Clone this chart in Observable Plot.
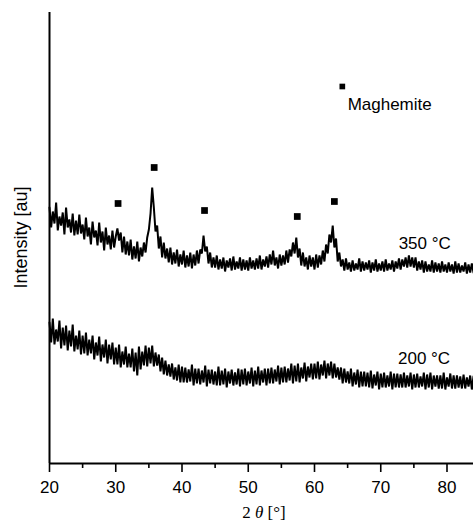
<!DOCTYPE html>
<html>
<head>
<meta charset="utf-8">
<script src="https://cdn.jsdelivr.net/npm/d3@7"></script>
<script src="https://cdn.jsdelivr.net/npm/@observablehq/plot@0.6"></script>
<style>
  html, body { margin: 0; padding: 0; background: #fff; }
  #chart svg { display: block; }
</style>
</head>
<body>
<div id="chart"></div>
<script>
// 2θ sampling positions (degrees), 0.25° step
const twoTheta = [
  20,20.25,20.5,20.75,21,21.25,21.5,21.75,22,22.25,22.5,22.75,23,23.25,23.5,23.75,24,24.25,24.5,24.75,
  25,25.25,25.5,25.75,26,26.25,26.5,26.75,27,27.25,27.5,27.75,28,28.25,28.5,28.75,29,29.25,29.5,29.75,
  30,30.25,30.5,30.75,31,31.25,31.5,31.75,32,32.25,32.5,32.75,33,33.25,33.5,33.75,34,34.25,34.5,34.75,
  35,35.25,35.5,35.75,36,36.25,36.5,36.75,37,37.25,37.5,37.75,38,38.25,38.5,38.75,39,39.25,39.5,39.75,
  40,40.25,40.5,40.75,41,41.25,41.5,41.75,42,42.25,42.5,42.75,43,43.25,43.5,43.75,44,44.25,44.5,44.75,
  45,45.25,45.5,45.75,46,46.25,46.5,46.75,47,47.25,47.5,47.75,48,48.25,48.5,48.75,49,49.25,49.5,49.75,
  50,50.25,50.5,50.75,51,51.25,51.5,51.75,52,52.25,52.5,52.75,53,53.25,53.5,53.75,54,54.25,54.5,54.75,
  55,55.25,55.5,55.75,56,56.25,56.5,56.75,57,57.25,57.5,57.75,58,58.25,58.5,58.75,59,59.25,59.5,59.75,
  60,60.25,60.5,60.75,61,61.25,61.5,61.75,62,62.25,62.5,62.75,63,63.25,63.5,63.75,64,64.25,64.5,64.75,
  65,65.25,65.5,65.75,66,66.25,66.5,66.75,67,67.25,67.5,67.75,68,68.25,68.5,68.75,69,69.25,69.5,69.75,
  70,70.25,70.5,70.75,71,71.25,71.5,71.75,72,72.25,72.5,72.75,73,73.25,73.5,73.75,74,74.25,74.5,74.75,
  75,75.25,75.5,75.75,76,76.25,76.5,76.75,77,77.25,77.5,77.75,78,78.25,78.5,78.75,79,79.25,79.5,79.75,
  80,80.25,80.5,80.75,81,81.25,81.5,81.75,82,82.25,82.5,82.75,83,83.25,83.5,83.75,84
];

// 350 °C pattern (arbitrary units), noisy trace
const i350 = [
  256,236,252,240,261,233,247,238,251,229,256,236,244,231,250,228,243,229,249,230,
  239,224,246,227,236,219,242,226,233,218,241,221,232,213,236,219,228,214,233,216,
  227,235,223,231,211,227,209,222,208,224,204,217,205,222,202,216,207,221,211,226,
  234,250,276,256,232,238,215,227,206,221,205,215,201,216,199,211,200,214,197,209,
  199,213,196,208,197,211,195,209,198,213,200,214,210,228,212,217,200,211,196,206,
  196,208,194,204,195,206,192,203,196,205,193,207,194,202,195,206,193,204,194,203,
  193,206,195,203,194,205,195,208,194,204,197,207,196,209,199,213,198,206,195,209,
  198,208,199,213,201,214,207,221,210,226,206,215,198,211,197,206,194,208,197,206,
  194,209,196,208,199,213,202,219,210,229,221,238,216,225,202,211,197,204,193,205,
  194,201,192,203,193,200,194,205,192,202,193,201,194,203,191,201,193,204,192,200,
  193,202,192,204,193,200,194,203,192,202,195,205,194,204,197,206,196,208,197,206,
  196,206,193,202,194,203,191,202,192,199,192,203,191,201,192,200,191,202,192,199,
  191,201,192,199,190,202,191,200,191,198,192,201,190,199,191,200,191
];

// 200 °C pattern (arbitrary units)
const i200 = [
  141,121,145,119,134,122,143,115,136,118,138,113,133,117,139,112,128,114,133,109,
  128,110,131,108,124,110,128,104,121,108,127,102,119,106,124,100,119,104,121,99,
  116,99,119,96,112,99,117,96,110,96,115,92,111,88,117,94,112,98,118,97,
  116,100,118,97,111,98,109,92,106,89,103,88,99,87,100,84,96,83,99,81,
  97,81,96,81,94,82,99,78,95,80,95,79,93,81,98,77,94,80,94,79,
  92,78,97,78,93,79,95,76,92,80,94,78,91,79,95,77,94,79,95,78,
  92,80,96,77,93,79,97,78,93,81,95,78,95,80,96,80,94,82,98,79,
  96,81,97,81,95,83,100,80,98,82,100,81,96,85,101,82,97,86,100,84,
  100,85,102,84,99,88,103,85,100,88,102,85,100,86,96,84,96,80,95,81,
  92,80,95,77,91,79,94,76,92,77,92,77,91,76,93,75,89,78,92,74,
  90,76,91,76,88,77,92,74,90,76,90,76,89,76,91,76,88,77,91,74,
  89,76,90,76,87,77,91,74,89,76,91,74,88,77,88,75,88,75,91,74,
  86,77,90,75,88,75,88,76,87,75,89,75,86,77,88,74,87
];

// Maghemite reflection markers
const markerTheta = [30.35, 35.8, 43.4, 57.4, 63.0];
const markerIntensity = [260, 296, 253, 247, 262];

// Series labels
const seriesNames = ["350 °C", "200 °C"];
const seriesLabelTheta = [72.7, 72.6];
const seriesLabelIntensity = [220, 105];

// Legend
const legendName = "Maghemite";
const legendTheta = 64.2;
const legendIntensity = 377;

// Axis ticks
const majorTicks = [20, 30, 40, 50, 60, 70, 80];
const minorTicks = [25, 35, 45, 55, 65, 75];

const data350 = twoTheta.map((t, i) => ({t, v: i350[i]}));
const data200 = twoTheta.map((t, i) => ({t, v: i200[i]}));
const markers = markerTheta.map((t, i) => ({t, v: markerIntensity[i]}));
const labels = seriesNames.map((name, i) => ({name, t: seriesLabelTheta[i], v: seriesLabelIntensity[i]}));

const font = "'Liberation Sans', Arial, Helvetica, sans-serif";

const chart = Plot.plot({
  width: 473,
  height: 524,
  marginLeft: 49,
  marginRight: 0,
  marginTop: 12,
  marginBottom: 61,
  style: {fontFamily: font, fontSize: "17px", background: "#fff", color: "#000"},
  x: {domain: [20, 84]},
  y: {domain: [0, 451], axis: null},
  marks: [
    Plot.line(data350, {x: "t", y: "v", stroke: "#000", strokeWidth: 2, strokeLinejoin: "miter", strokeMiterlimit: 3}),
    Plot.line(data200, {x: "t", y: "v", stroke: "#000", strokeWidth: 2, strokeLinejoin: "miter", strokeMiterlimit: 3}),
    Plot.dot(markers, {x: "t", y: "v", symbol: "square", r: 3.8, fill: "#000", stroke: null}),
    Plot.dot([{t: legendTheta, v: legendIntensity}], {x: "t", y: "v", symbol: "square", r: 3.2, fill: "#000", stroke: null}),
    Plot.text([legendName], {x: legendTheta + 0.8, y: legendIntensity - 18, text: d => d, textAnchor: "start", lineAnchor: "middle", fontSize: 17, fill: "#000"}),
    Plot.text(labels, {x: "t", y: "v", text: "name", textAnchor: "start", lineAnchor: "middle", fontSize: 17, fill: "#000"}),
    Plot.axisX({ticks: majorTicks, tickSize: 9, tickPadding: 8, tickFormat: d => String(d), label: null, fontSize: 17, strokeWidth: 1.6}),
    Plot.axisX({ticks: minorTicks, tickSize: 5, tickFormat: () => "", label: null, strokeWidth: 1.6}),
    Plot.ruleY([0], {stroke: "#000", strokeWidth: 2}),
    Plot.ruleX([20], {stroke: "#000", strokeWidth: 2})
  ]
});

// Axis titles (rich text: italic theta, serif)
const svg = d3.select(chart);
const xr = chart.scale("x").range;
const xt = svg.append("text")
  .attr("x", (xr[0] + xr[1]) / 2 + 3)
  .attr("y", 518)
  .attr("text-anchor", "middle")
  .style("font-family", "'Liberation Serif', 'Times New Roman', serif")
  .style("font-size", "17px")
  .attr("fill", "#000");
xt.append("tspan").text("2 ");
xt.append("tspan").style("font-style", "italic").text("θ");
xt.append("tspan").text(" [°]");

const yr = chart.scale("y").range;
svg.append("text")
  .attr("transform", `translate(22,${(yr[0] + yr[1]) / 2}) rotate(-90)`)
  .attr("text-anchor", "middle")
  .attr("dominant-baseline", "middle")
  .style("font-family", font)
  .style("font-size", "18px")
  .attr("fill", "#000")
  .text("Intensity [au]");

document.getElementById("chart").appendChild(chart);
</script>
</body>
</html>
